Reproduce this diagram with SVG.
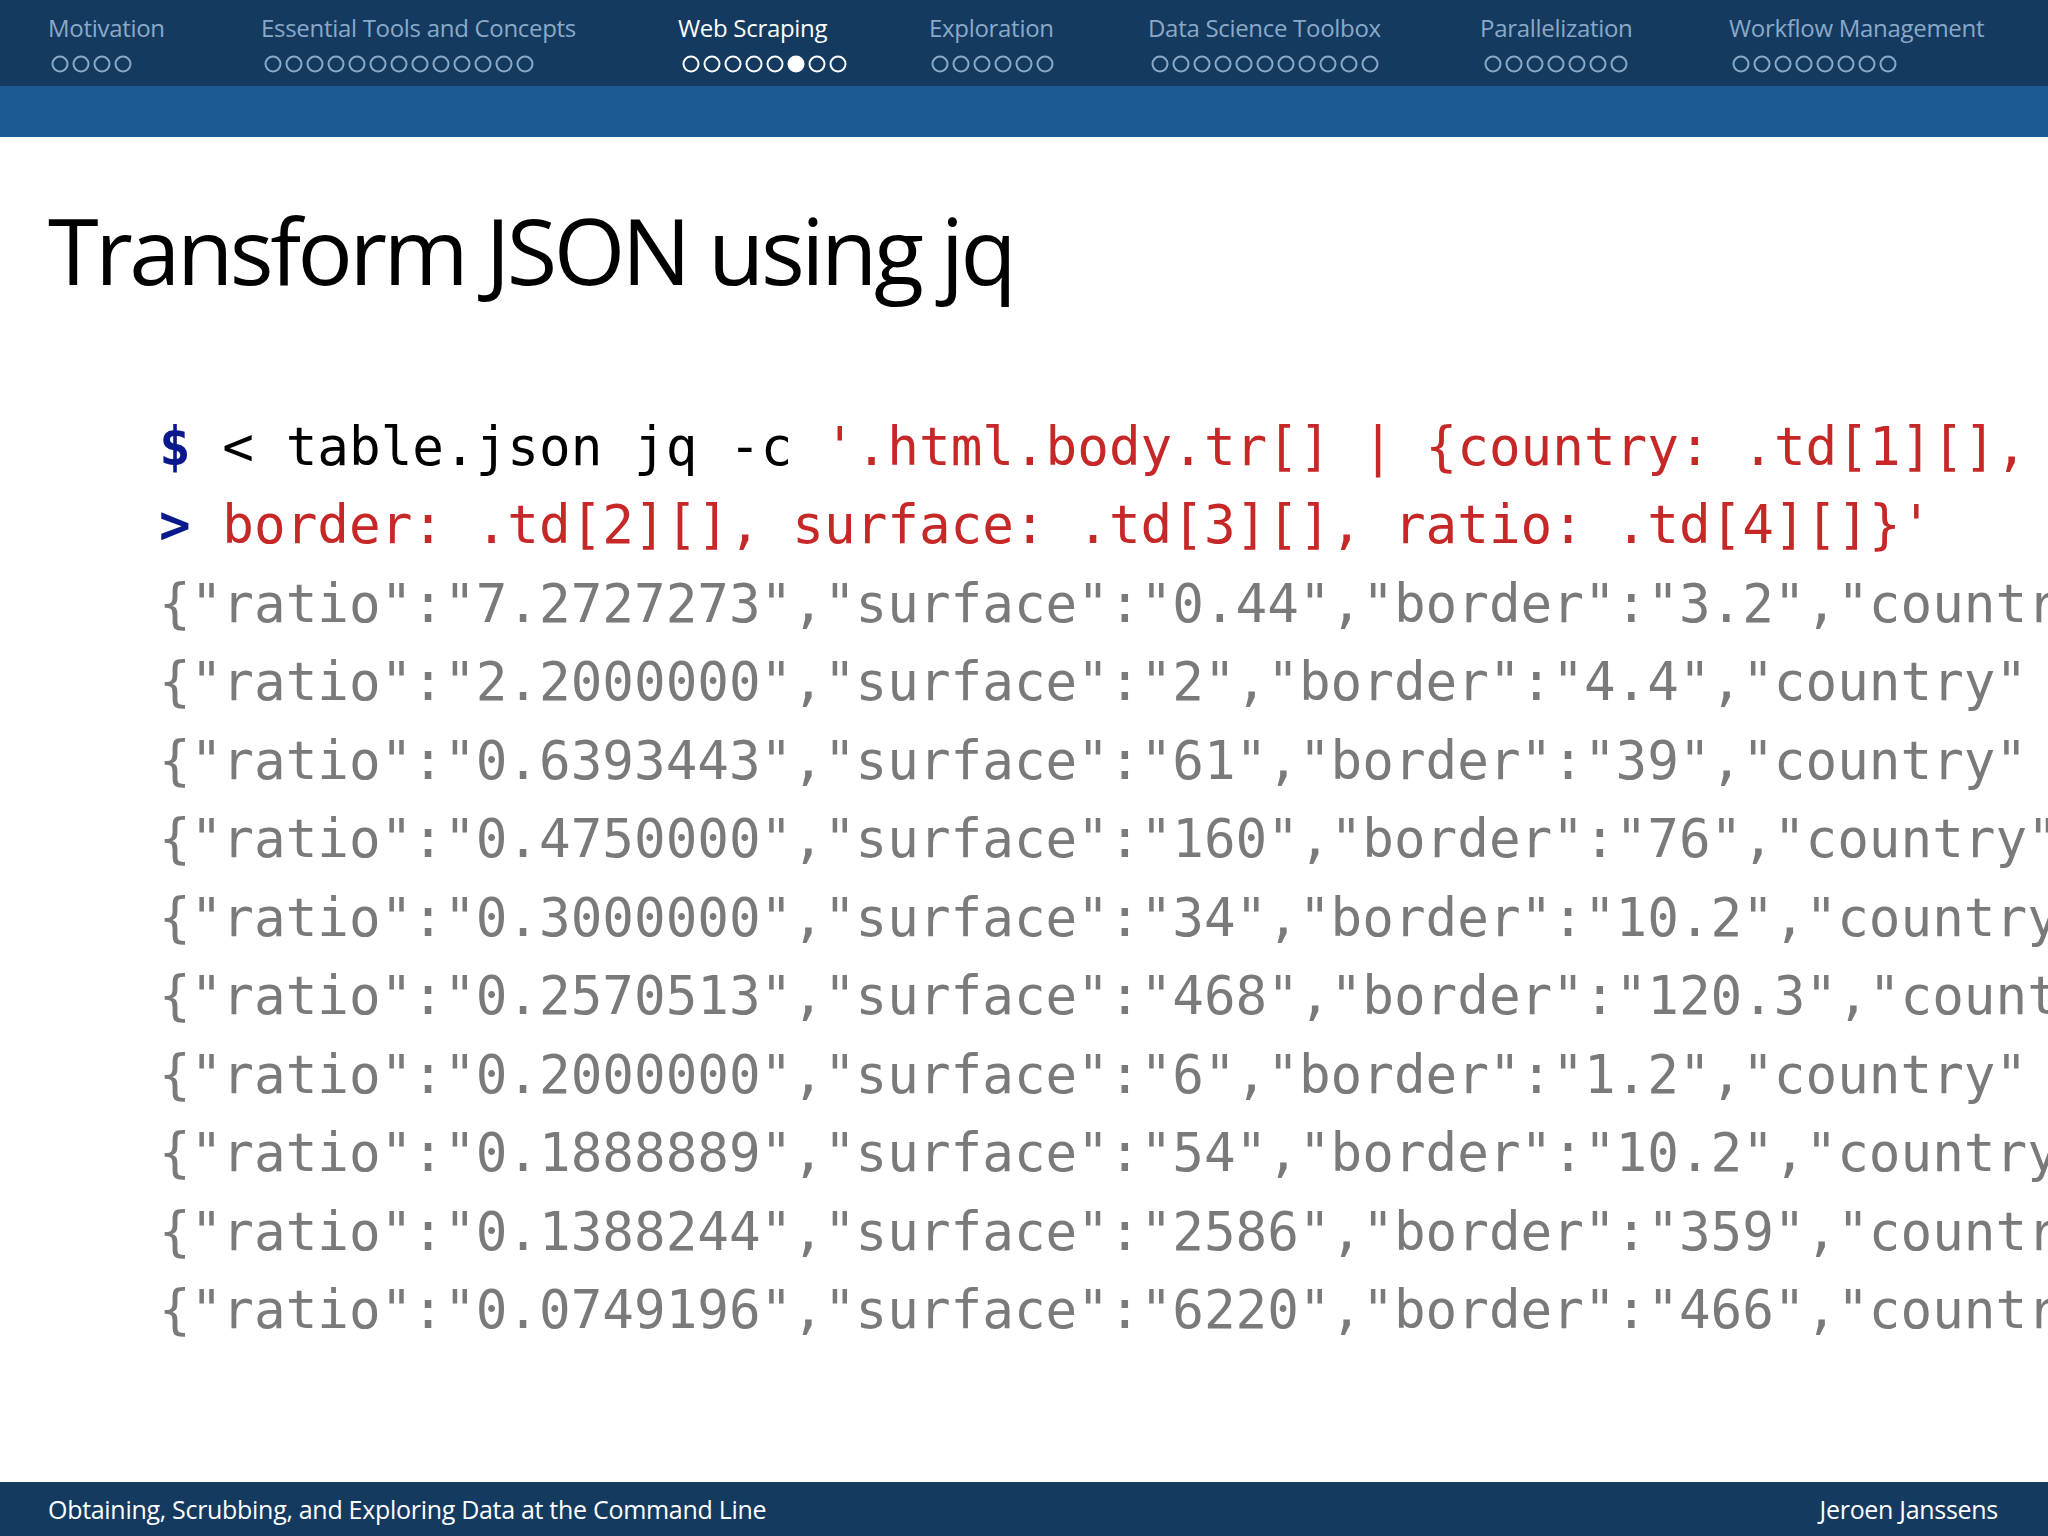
<svg xmlns="http://www.w3.org/2000/svg" width="2048" height="1536" viewBox="0 0 2048 1536">
<style>
.nav{font-family:"Open Sans","Liberation Sans",sans-serif;font-size:24px;fill:#8aa9c8;letter-spacing:-0.3px}
.act{fill:#ffffff}
.d{fill:none;stroke:#8aa9c8;stroke-width:2}
.da{fill:none;stroke:#ffffff;stroke-width:2}
.code{font-family:"DejaVu Sans Mono","Liberation Mono",monospace;font-size:52.6px}
.out{fill:#7a7a7a}
.red{fill:#c62828}
.blu{fill:#0a1a8c;font-weight:bold}
.foot{font-family:"Open Sans","Liberation Sans",sans-serif;font-size:25px;fill:#ffffff;letter-spacing:-0.3px}
</style>
<rect width="2048" height="1536" fill="#ffffff"/>
<rect width="2048" height="86" fill="#143a60"/>
<rect y="86" width="2048" height="51" fill="#1b5a92"/>
<g id="nav">
<text class="nav" x="48" y="37">Motivation</text>
<text class="nav" x="261" y="37">Essential Tools and Concepts</text>
<text class="nav act" x="678" y="37">Web Scraping</text>
<text class="nav" x="929" y="37">Exploration</text>
<text class="nav" x="1148" y="37">Data Science Toolbox</text>
<text class="nav" x="1480" y="37">Parallelization</text>
<text class="nav" x="1729" y="37">Workflow Management</text>
<g class="d">
<circle cx="60" cy="64" r="7.5"/><circle cx="81" cy="64" r="7.5"/><circle cx="102" cy="64" r="7.5"/><circle cx="123" cy="64" r="7.5"/>
<circle cx="273" cy="64" r="7.5"/><circle cx="294" cy="64" r="7.5"/><circle cx="315" cy="64" r="7.5"/><circle cx="336" cy="64" r="7.5"/><circle cx="357" cy="64" r="7.5"/><circle cx="378" cy="64" r="7.5"/><circle cx="399" cy="64" r="7.5"/><circle cx="420" cy="64" r="7.5"/><circle cx="441" cy="64" r="7.5"/><circle cx="462" cy="64" r="7.5"/><circle cx="483" cy="64" r="7.5"/><circle cx="504" cy="64" r="7.5"/><circle cx="525" cy="64" r="7.5"/>
<circle cx="940" cy="64" r="7.5"/><circle cx="961" cy="64" r="7.5"/><circle cx="982" cy="64" r="7.5"/><circle cx="1003" cy="64" r="7.5"/><circle cx="1024" cy="64" r="7.5"/><circle cx="1045" cy="64" r="7.5"/>
<circle cx="1160" cy="64" r="7.5"/><circle cx="1181" cy="64" r="7.5"/><circle cx="1202" cy="64" r="7.5"/><circle cx="1223" cy="64" r="7.5"/><circle cx="1244" cy="64" r="7.5"/><circle cx="1265" cy="64" r="7.5"/><circle cx="1286" cy="64" r="7.5"/><circle cx="1307" cy="64" r="7.5"/><circle cx="1328" cy="64" r="7.5"/><circle cx="1349" cy="64" r="7.5"/><circle cx="1370" cy="64" r="7.5"/>
<circle cx="1493" cy="64" r="7.5"/><circle cx="1514" cy="64" r="7.5"/><circle cx="1535" cy="64" r="7.5"/><circle cx="1556" cy="64" r="7.5"/><circle cx="1577" cy="64" r="7.5"/><circle cx="1598" cy="64" r="7.5"/><circle cx="1619" cy="64" r="7.5"/>
<circle cx="1741" cy="64" r="7.5"/><circle cx="1762" cy="64" r="7.5"/><circle cx="1783" cy="64" r="7.5"/><circle cx="1804" cy="64" r="7.5"/><circle cx="1825" cy="64" r="7.5"/><circle cx="1846" cy="64" r="7.5"/><circle cx="1867" cy="64" r="7.5"/><circle cx="1888" cy="64" r="7.5"/>
</g>
<g class="da">
<circle cx="691" cy="64" r="7.5"/><circle cx="712" cy="64" r="7.5"/><circle cx="733" cy="64" r="7.5"/><circle cx="754" cy="64" r="7.5"/><circle cx="775" cy="64" r="7.5"/><circle cx="817" cy="64" r="7.5"/><circle cx="838" cy="64" r="7.5"/>
</g>
<circle cx="796" cy="64" r="8.5" fill="#ffffff"/>
</g>
<text x="48" y="285" font-family="'Open Sans','Liberation Sans',sans-serif" font-size="92" fill="#000000" letter-spacing="-3.5">Transform JSON using jq</text>
<g class="code" xml:space="preserve">
<text x="159" y="465"><tspan class="blu">$</tspan> &lt; table.json jq -c <tspan class="red">'.html.body.tr[] | {country: .td[1][],</tspan></text>
<text x="159" y="543"><tspan class="blu">&gt;</tspan> <tspan class="red">border: .td[2][], surface: .td[3][], ratio: .td[4][]}'</tspan></text>
<text class="out" x="159" y="622">{"ratio":"7.2727273","surface":"0.44","border":"3.2","country"</text>
<text class="out" x="159" y="700">{"ratio":"2.2000000","surface":"2","border":"4.4","country"</text>
<text class="out" x="159" y="779">{"ratio":"0.6393443","surface":"61","border":"39","country"</text>
<text class="out" x="159" y="857">{"ratio":"0.4750000","surface":"160","border":"76","country"</text>
<text class="out" x="159" y="936">{"ratio":"0.3000000","surface":"34","border":"10.2","country"</text>
<text class="out" x="159" y="1014">{"ratio":"0.2570513","surface":"468","border":"120.3","country"</text>
<text class="out" x="159" y="1093">{"ratio":"0.2000000","surface":"6","border":"1.2","country"</text>
<text class="out" x="159" y="1171">{"ratio":"0.1888889","surface":"54","border":"10.2","country"</text>
<text class="out" x="159" y="1250">{"ratio":"0.1388244","surface":"2586","border":"359","country"</text>
<text class="out" x="159" y="1328">{"ratio":"0.0749196","surface":"6220","border":"466","country"</text>
</g>
<rect y="1482" width="2048" height="54" fill="#143a60"/>
<text class="foot" x="48" y="1519">Obtaining, Scrubbing, and Exploring Data at the Command Line</text>
<text class="foot" x="1998" y="1519" text-anchor="end">Jeroen Janssens</text>
</svg>
